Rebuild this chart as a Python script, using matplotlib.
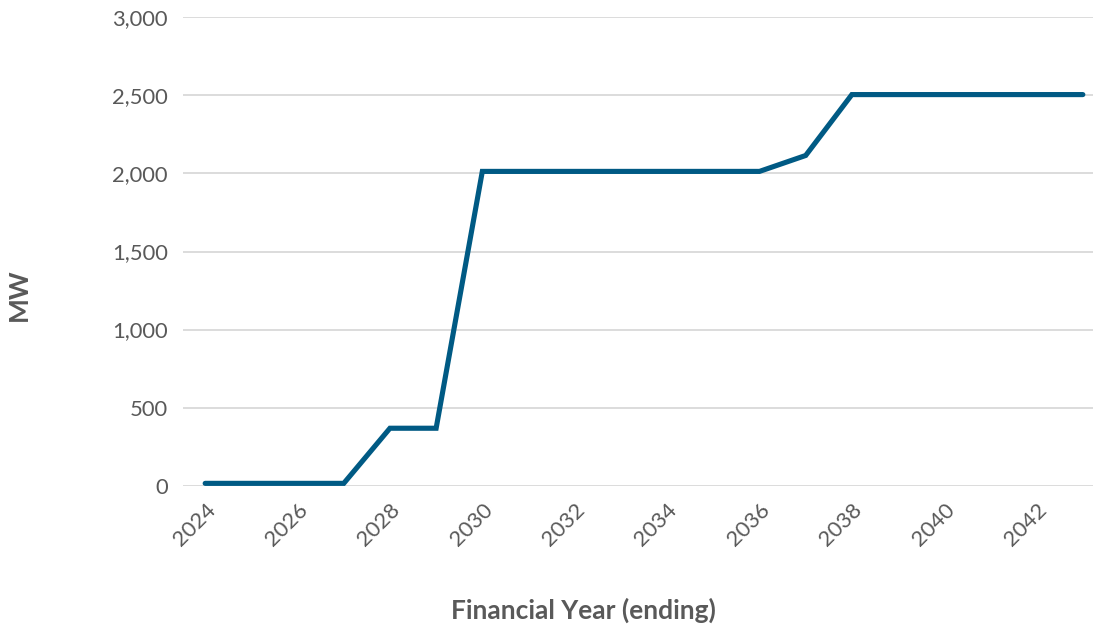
import matplotlib
matplotlib.use("Agg")
import matplotlib.pyplot as plt
from matplotlib.ticker import FuncFormatter

years = list(range(2024, 2044))
mw = [15, 15, 15, 15, 368, 368, 2013, 2013, 2013, 2013, 2013, 2013, 2013, 2115,
      2505, 2505, 2505, 2505, 2505, 2505]
xticks = list(range(2024, 2043, 2))
yticks = [0, 500, 1000, 1500, 2000, 2500, 3000]

grey = "#595959"
fig = plt.figure(figsize=(10.93, 6.28), dpi=100)
ax = fig.add_axes([183/1093, 1 - 485.7/628, 1 - 183/1093, (485.7 - 17.3)/628])

ax.plot(years, mw, color="#005a84", lw=3.7, solid_capstyle="round", solid_joinstyle="miter", zorder=3)

ax.set_xlim(2023.52, 2043.22)
ax.set_ylim(0, 3000)
ax.set_yticks(yticks)
ax.set_xticks(xticks)
ax.yaxis.set_major_formatter(FuncFormatter(lambda v, p: f"{int(v):,}"))
ax.grid(axis="y", color="#d9d9d9", lw=1.3, zorder=0)
ax.set_axisbelow(True)
for s in ax.spines.values():
    s.set_visible(False)
ax.tick_params(axis="both", length=0, colors=grey, labelsize=15.8)
ax.tick_params(axis="y", pad=11)
ax.tick_params(axis="x", pad=10)
for lab in ax.get_yticklabels():
    lab.set_fontfamily("Lato")
for lab in ax.get_xticklabels():
    lab.set_fontfamily("Lato")
    lab.set_rotation(45)
    lab.set_ha("right")
    lab.set_va("top")
    lab.set_rotation_mode("anchor")

fig.text(583/1093, 1 - 610/628, "Financial Year (ending)", ha="center", va="center",
         fontsize=19, fontweight="bold", color=grey, family="Lato")
fig.text(19/1093, 1 - 295/628, "MW", ha="center", va="center", rotation=90,
         fontsize=19, fontweight="bold", color=grey, family="Lato")

fig.savefig("out.png", dpi=100)
